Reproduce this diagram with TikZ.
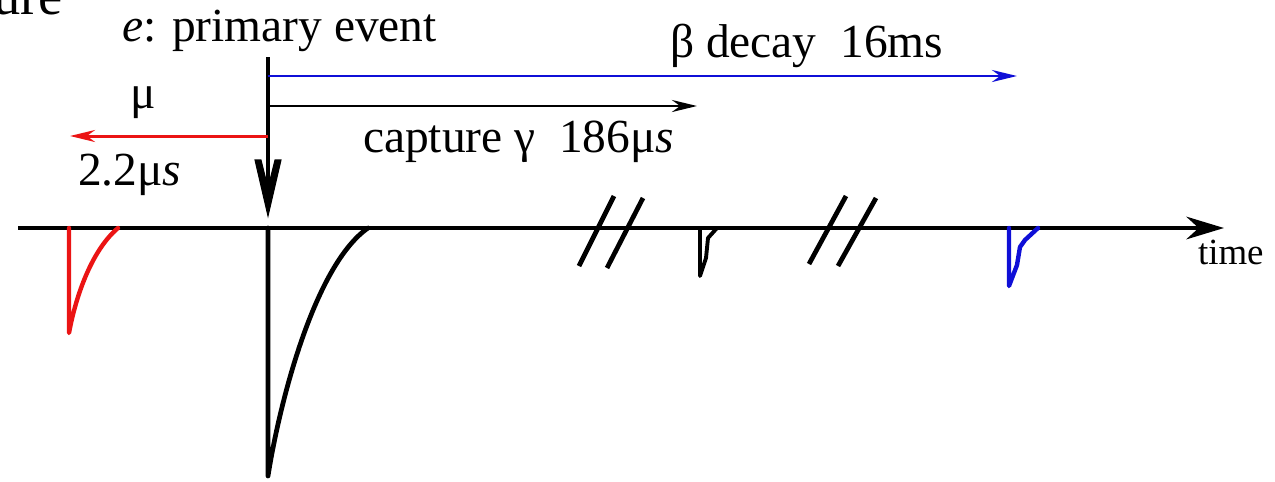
\documentclass[tikz,border=0pt]{standalone}
\usepackage{fontspec}
\setmainfont{Liberation Serif}
\newfontfamily\tnr{Liberation Serif}
\newcommand\lblfont{\tnr\fontsize{27}{32}\selectfont}
\newcommand\timefont{\tnr\fontsize{21}{25}\selectfont}
\newcommand\fragfont{\tnr\fontsize{31}{36}\selectfont}
\usetikzlibrary{arrows.meta}
\definecolor{pred}{RGB}{235,20,20}
\definecolor{pblue}{RGB}{15,15,215}
\begin{document}
\begin{tikzpicture}[x=0.02cm,y=-0.02cm,
  lbl/.style={inner sep=0pt, outer sep=0pt},
  axisline/.style={line width=2.8pt, -{Stealth[length=0.75cm,width=0.45cm]}},
  primline/.style={line width=2.8pt},
  vhead/.style={fill=black, draw=black, line width=0.6pt, line join=miter},
  spanline/.style={line width=1.7pt, -{Stealth[length=0.5cm,width=0.24cm]}},
  pulse/.style={line width=2.5pt, line join=round, line cap=round},
  brk/.style={line width=2.7pt}]
\useasboundingbox (0,0) rectangle (1275,481);
\clip (0,0) rectangle (1275,481);

% clipped title fragment
\node[lbl, anchor=base west] (frag) at (-7,14) {\fragfont ure};

% labels
\node[lbl, anchor=base west] (prim) at (122,41) {\lblfont\textit{e}: primary event};
\node[lbl, anchor=base west] (mu) at (130,108) {\lblfont μ};
\node[lbl, anchor=base west] (mut) at (78,185) {\lblfont 2.2μ\textit{s}};
\node[lbl, anchor=base west] (cap) at (363,152) {\lblfont capture γ\ \ 186μ\textit{s}};
\node[lbl, anchor=base west] (beta) at (670,57) {\lblfont β decay\ \ 16ms};
\node[lbl, anchor=base west] (time) at (1198,264) {\timefont time};

% coordinates
\coordinate (top) at (268,57);
\coordinate (arrtip) at (268,216);
\coordinate (blueS) at (268,76);
\coordinate (blueE) at (1017,76);
\coordinate (capS) at (268,106);
\coordinate (capE) at (697,106);
\coordinate (redS) at (268,136);
\coordinate (redE) at (70,136);
\coordinate (axS) at (18,228);
\coordinate (axE) at (1224,228);

% lines
\draw[primline] (top) -- ([yshift=0.3cm]arrtip);
\filldraw[vhead] (arrtip) -- (255,160) -- (261,160) -- (268,188) -- (275,160) -- (281,160) -- cycle;
\draw[spanline, pblue] (blueS) -- (blueE);
\draw[spanline, black] (capS) -- (capE);
\draw[spanline, pred] (redS) -- (redE);
\draw[axisline] (axS) -- (axE);

% pulses
\draw[pulse, pred] (69,228) -- (69,333) .. controls (76,295) and (92,250) .. (118,228);
\draw[pulse, black, line width=2.7pt] (268,228) -- (268,476) .. controls (280,400) and (315,265) .. (368,228);
\draw[pulse, black, line width=2.2pt] (700,228) -- (700,276) -- (706,258) -- (708,238) -- (717,228);
\draw[pulse, pblue] (1009,228) -- (1009,286) -- (1017,265) -- (1020,247) -- (1025,240) -- (1038,228);

% break marks
\draw[brk] (579,266) -- (614,196);
\draw[brk] (607,268) -- (643,198);
\draw[brk] (809,264) -- (846,196);
\draw[brk] (838,266) -- (876,198);
\end{tikzpicture}
\end{document}
